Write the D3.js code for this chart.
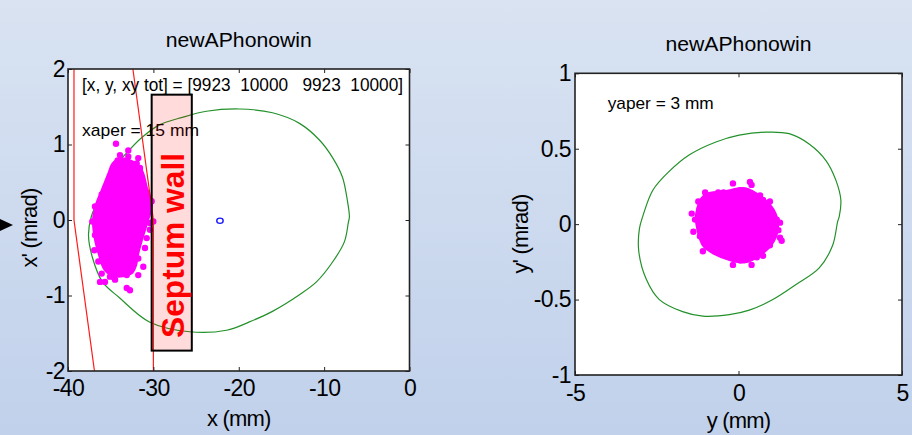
<!DOCTYPE html>
<html><head><meta charset="utf-8">
<script src="https://cdn.jsdelivr.net/npm/d3@7"></script>
<style>
html,body{margin:0;padding:0;overflow:hidden;}
svg{display:block;font-family:"Liberation Sans",Arial,sans-serif;}
</style></head>
<body>
<script>
// ---------- data ----------
const titleText = "newAPhonowin";
const leftXTicks = [-40, -30, -20, -10, 0];
const leftYTicks = [-2, -1, 0, 1, 2];
const rightXTicks = [-5, 0, 5];
const rightYTicks = [-1, -0.5, 0, 0.5, 1];
const countText = "[x, y, xy tot] = [9923  10000   9923  10000]";
const xaperText = "xaper = 15 mm";
const yaperText = "yaper = 3 mm";
const septumText = "Septum wall";
// septum box in data units [x0, x1, y0, y1]
const septumBox = [-30.2, -25.5, -1.73, 1.66];
// red aperture lines (x mm, x' mrad)
const redLineA = [[-39.3, 2], [-39.3, 0], [-36.9, -2]];
const redLineB = [[-32.4, 2], [-30.0, 0], [-30.0, -2]];
// green acceptance contours
const leftContour = [[-37.28,0.04],[-36.31,0.30],[-34.79,0.66],[-32.80,0.93],[-31.28,1.10],[-29.29,1.26],[-26.59,1.36],[-23.78,1.44],[-19.92,1.47],[-16.05,1.42],[-12.89,1.28],[-10.55,1.06],[-9.03,0.83],[-7.86,0.57],[-7.28,0.26],[-7.04,0.04],[-7.16,-0.03],[-7.63,-0.29],[-9.03,-0.56],[-10.90,-0.82],[-12.89,-0.99],[-16.05,-1.21],[-18.75,-1.35],[-21.44,-1.46],[-25.77,-1.48],[-30.46,-1.35],[-33.97,-1.03],[-35.96,-0.82],[-37.13,-0.50],[-37.6,-0.20]];
const rightContour = [[-2.93,0.05],[-2.62,0.225],[-2.12,0.35],[-1.50,0.46],[-0.69,0.545],[0.02,0.59],[0.84,0.61],[1.55,0.60],[2.17,0.53],[2.68,0.42],[2.98,0.29],[3.13,0.16],[3.08,0.05],[3.03,0.015],[2.88,-0.14],[2.47,-0.29],[1.76,-0.40],[1.05,-0.50],[0.33,-0.57],[-0.28,-0.60],[-1.09,-0.61],[-1.71,-0.58],[-2.42,-0.50],[-2.83,-0.36],[-3.05,-0.18],[-3.03,-0.03]];
// closed orbit marker
const closedOrbit = [-22.2, -0.01];
// particle cloud: dense core outline + outlying particles
const leftCore = [[-33.91,0.79],[-32.50,0.75],[-31.57,0.65],[-30.98,0.42],[-30.40,0.20],[-30.86,0.00],[-31.57,-0.26],[-32.04,-0.46],[-32.27,-0.60],[-32.74,-0.69],[-34.49,-0.72],[-35.55,-0.64],[-36.13,-0.46],[-36.60,-0.26],[-36.84,0.00],[-36.49,0.20],[-35.78,0.40],[-35.08,0.60],[-34.61,0.73]];
const leftOutliers = [[-34.38,1.01],[-32.94,0.92],[-33.91,0.86],[-32.94,0.84],[-31.77,0.82],[-34.18,0.79],[-31.95,0.75],[-31.57,0.69],[-34.58,0.67],[-30.20,0.25],[-30.59,0.14],[-36.84,0.18],[-36.05,0.34],[-35.67,0.42],[-30.01,-0.02],[-30.40,-0.13],[-30.78,-0.24],[-30.98,-0.37],[-37.15,-0.02],[-36.84,-0.20],[-36.92,-0.40],[-36.45,-0.55],[-36.05,-0.71],[-36.25,-0.82],[-35.08,-0.75],[-34.49,-0.79],[-33.12,-0.73],[-33.12,-0.90],[-32.74,-0.93],[-31.77,-0.73],[-31.18,-0.62],[-31.77,-0.51],[-35.67,-0.82],[-30.75,0.36],[-31.33,0.53],[-32.39,0.70],[-30.40,-0.04],[-34.73,-0.75]];
const rightCore = [[-1.02,0.18],[-0.41,0.205],[0.20,0.225],[0.66,0.17],[1.02,0.09],[1.15,-0.01],[1.02,-0.11],[0.66,-0.19],[0.20,-0.24],[-0.26,-0.225],[-0.72,-0.185],[-1.02,-0.14],[-1.18,-0.05],[-1.24,0.06]];
const rightOutliers = [[0.35,0.28],[0.40,0.26],[0.05,0.225],[-0.46,0.21],[-1.02,0.21],[-0.78,0.18],[-1.43,0.07],[-1.38,-0.05],[-1.09,-0.18],[-0.78,-0.17],[-0.17,-0.27],[0.40,-0.27],[0.75,-0.21],[1.27,-0.09],[1.27,0.01],[0.96,0.15],[0.66,0.19],[-0.62,0.21],[1.17,0.03],[1.22,-0.04],[0.96,-0.14],[0.56,-0.22],[0.05,-0.24],[-0.36,-0.21],[-0.82,-0.15],[-1.18,-0.08],[-1.33,0.03],[-1.23,0.15],[-0.17,0.27],[0.75,0.16],[1.32,-0.11]];

// ---------- drawing ----------
const W = 912, H = 435;
const svg = d3.select("body").append("svg").attr("width", W).attr("height", H);
const defs = svg.append("defs");
const grad = defs.append("linearGradient").attr("id","bg").attr("x1",0).attr("y1",0).attr("x2",0).attr("y2",1);
grad.append("stop").attr("offset","0%").attr("stop-color","#d9e3f2");
grad.append("stop").attr("offset","100%").attr("stop-color","#c1d1eb");
svg.append("rect").attr("width",W).attr("height",H).attr("fill","url(#bg)");

// left-edge arrow
svg.append("path").attr("d","M0,219L13,225L0,231Z").attr("fill","#000");

function panel(cfg){
  const x = d3.scaleLinear().domain(cfg.xd).range(cfg.xr);
  const y = d3.scaleLinear().domain(cfg.yd).range(cfg.yr);
  const g = svg.append("g");
  const [x0,x1] = cfg.xr, [y1,y0] = cfg.yr;
  g.append("rect").attr("x",x0).attr("y",y0).attr("width",x1-x0).attr("height",y1-y0).attr("fill","#fff");
  defs.append("clipPath").attr("id",cfg.id).append("rect")
    .attr("x",x0).attr("y",y0).attr("width",x1-x0).attr("height",y1-y0);
  const plot = g.append("g").attr("clip-path",`url(#${cfg.id})`);
  const fmt = d => String(d);
  const tickFont = s => s.selectAll("text").attr("font-size",23).attr("fill","#000")
      .attr("font-family","'Liberation Sans',Arial,sans-serif").attr("letter-spacing","-0.6");
  const bx = g.append("g").attr("transform",`translate(0,${y1})`)
    .call(d3.axisBottom(x).tickValues(cfg.xt).tickSize(-4).tickPadding(cfg.xpad).tickFormat(fmt));
  tickFont(bx);
  const ly = g.append("g").attr("transform",`translate(${x0},0)`)
    .call(d3.axisLeft(y).tickValues(cfg.yt).tickSize(-4).tickPadding(cfg.ypad).tickFormat(fmt));
  tickFont(ly);
  g.append("g").attr("transform",`translate(0,${y0})`)
    .call(d3.axisTop(x).tickValues(cfg.xt).tickSize(-4).tickFormat(""));
  g.append("g").attr("transform",`translate(${x1},0)`)
    .call(d3.axisRight(y).tickValues(cfg.yt).tickSize(-4).tickFormat(""));
  g.selectAll(".domain").remove();
  g.selectAll(".tick line").attr("stroke","#222").attr("stroke-width",1);
  g.append("text").attr("x",(x0+x1)/2).attr("y",cfg.titleY).attr("text-anchor","middle")
    .attr("font-size",21).attr("textLength",146).attr("lengthAdjust","spacingAndGlyphs").text(titleText);
  g.append("text").attr("x",(x0+x1)/2).attr("y",cfg.xlabY).attr("text-anchor","middle")
    .attr("font-size",22).attr("letter-spacing","-0.8").text(cfg.xlab);
  g.append("text").attr("transform",`translate(${cfg.ylabX},${cfg.ylabC}) rotate(-90)`).attr("text-anchor","middle")
    .attr("font-size",22).attr("letter-spacing","-0.8").text(cfg.ylab);
  return {x,y,g,plot,frame:[x0,x1,y0,y1]};
}

const L = panel({id:"clipL", xd:[-40,0], xr:[68,409.5], yd:[-2,2], yr:[371,69],
  xt:leftXTicks, yt:leftYTicks, xpad:9, ypad:3, titleY:47, xlab:"x (mm)", xlabY:426,
  ylab:"x' (mrad)", ylabX:37, ylabC:228});
const R = panel({id:"clipR", xd:[-5,5], xr:[575,902], yd:[-1,1], yr:[375,73.3],
  xt:rightXTicks, yt:rightYTicks, xpad:10, ypad:4, titleY:51, xlab:"y (mm)", xlabY:428,
  ylab:"y' (mrad)", ylabX:528, ylabC:234});

function drawContent(P, contour, core, outliers){
  const line = d3.line().x(d=>P.x(d[0])).y(d=>P.y(d[1])).curve(d3.curveCatmullRomClosed);
  P.plot.append("path").attr("d", line(contour))
    .attr("fill","none").attr("stroke","#23912a").attr("stroke-width",1.2);
  P.plot.append("path").attr("d", line(core))
    .attr("fill","#ff00ff").attr("stroke","#ff00ff").attr("stroke-width",6).attr("stroke-linejoin","round");
  const sym = d3.symbol().type(d3.symbolCircle).size(32);
  P.plot.selectAll("path.pt").data(outliers).join("path").attr("class","pt")
    .attr("transform",d=>`translate(${P.x(d[0])},${P.y(d[1])})`)
    .attr("d",sym).attr("fill","#ff00ff");
}

drawContent(L, leftContour, leftCore, leftOutliers);
const rl = d3.line().x(d=>L.x(d[0])).y(d=>L.y(d[1]));
[redLineA, redLineB].forEach(p => L.plot.append("path").attr("d", rl(p))
  .attr("fill","none").attr("stroke","#ff1a1a").attr("stroke-width",1.2));
L.plot.append("ellipse").attr("cx",L.x(closedOrbit[0])).attr("cy",L.y(closedOrbit[1]))
  .attr("rx",3.2).attr("ry",2.6).attr("fill","none").attr("stroke","#1a1aff").attr("stroke-width",1.4);

L.g.append("text").attr("x",82).attr("y",91).attr("font-size",18).style("white-space","pre")
  .attr("textLength",321).attr("lengthAdjust","spacingAndGlyphs").text(countText);
L.g.append("text").attr("x",82).attr("y",136).attr("font-size",17)
  .attr("textLength",117).attr("lengthAdjust","spacingAndGlyphs").text(xaperText);

const sb = septumBox;
L.g.append("rect").attr("x",L.x(sb[0])).attr("y",L.y(sb[3]))
  .attr("width",L.x(sb[1])-L.x(sb[0])).attr("height",L.y(sb[2])-L.y(sb[3]))
  .attr("fill","rgba(255,0,0,0.14)").attr("stroke","#000").attr("stroke-width",2);
L.g.append("text").attr("transform",`translate(${(L.x(sb[0])+L.x(sb[1]))/2+12},245.5) rotate(-90)`)
  .attr("text-anchor","middle").attr("font-size",32).attr("font-weight","bold").attr("fill","#ff0000")
  .attr("textLength",185).attr("lengthAdjust","spacingAndGlyphs").text(septumText);

drawContent(R, rightContour, rightCore, rightOutliers);
R.g.append("text").attr("x",607.7).attr("y",109).attr("font-size",17)
  .attr("textLength",106).attr("lengthAdjust","spacingAndGlyphs").text(yaperText);

[L,R].forEach(P=>{
  const [x0,x1,y0,y1] = P.frame;
  P.g.append("rect").attr("x",x0).attr("y",y0).attr("width",x1-x0).attr("height",y1-y0)
    .attr("fill","none").attr("stroke","#222").attr("stroke-width",1.6);
});
</script>
</body></html>
